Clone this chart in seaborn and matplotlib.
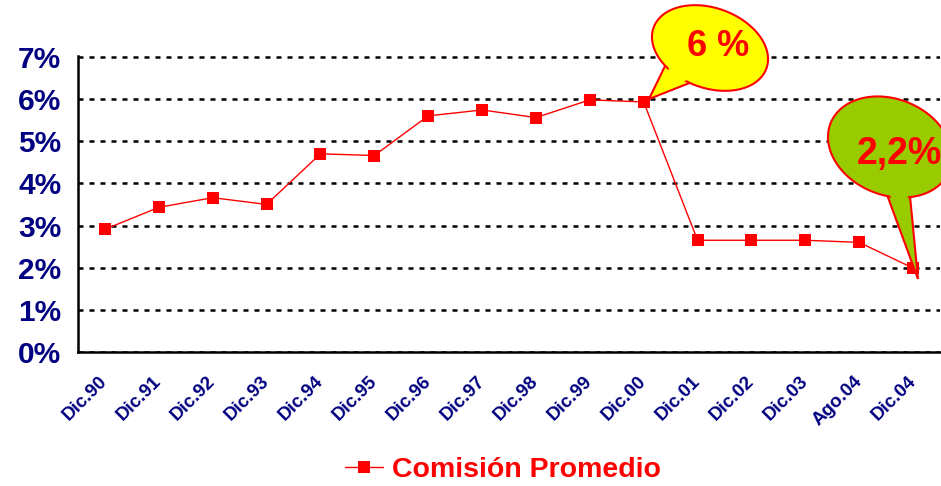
import numpy as np
import pandas as pd
import matplotlib
matplotlib.use("Agg")
import matplotlib.pyplot as plt
import seaborn as sns
from matplotlib.patches import Polygon
from matplotlib.transforms import IdentityTransform

# Datos
periodos = ["Dic.90", "Dic.91", "Dic.92", "Dic.93", "Dic.94", "Dic.95", "Dic.96", "Dic.97",
            "Dic.98", "Dic.99", "Dic.00", "Dic.01", "Dic.02", "Dic.03", "Ago.04", "Dic.04"]
comision = [0.0291, 0.0343, 0.0366, 0.0350, 0.0470, 0.0466, 0.0560, 0.0574,
            0.0556, 0.0598, 0.0593, 0.0265, 0.0265, 0.0265, 0.0260, 0.0199]
etiquetas_y = ["0%", "1%", "2%", "3%", "4%", "5%", "6%", "7%"]
serie = "Comisión Promedio"

sns.set_style("white")
plt.rcParams["font.family"] = ["Liberation Sans", "DejaVu Sans"]
plt.rcParams["font.weight"] = "bold"

W, H = 941, 486
azul = "#000080"
rojo = "#FF0000"

df = pd.DataFrame({"pos": np.arange(len(periodos)), "comision": comision})

fig = plt.figure(figsize=(W / 100, H / 100), dpi=100)
ax = fig.add_axes([78 / W, 1 - 352 / H, 862 / W, (352 - 56) / H])

sns.lineplot(data=df, x="pos", y="comision", color=rojo, linewidth=1.0,
             marker="s", markersize=8.5, markeredgewidth=0, label=serie, ax=ax)

ax.set_xlim(-0.5, len(periodos) - 0.5)
ax.set_ylim(0, 0.0702)
ax.set_xlabel("")
ax.set_ylabel("")

# eje y
ax.set_yticks(np.arange(0, 0.071, 0.01))
ax.set_yticklabels(etiquetas_y, fontsize=21.5, fontweight="bold", color=azul)
ax.tick_params(axis="y", length=0, pad=12)
ax.yaxis.grid(True, color="black", linestyle=(0, (2, 2.4)), linewidth=1.8)
ax.xaxis.grid(False)

# eje x: marcas largas en los limites, cortas en el centro
ax.set_xticks(np.arange(-0.5, len(periodos), 1.0))
ax.set_xticklabels([])
ax.set_xticks(np.arange(len(periodos)), minor=True)
ax.set_xticklabels(periodos, minor=True, rotation=45, ha="right", va="center",
                   rotation_mode="anchor", fontsize=13.5, fontweight="bold", color=azul)
ax.tick_params(axis="x", which="major", direction="out", length=5, width=1.6, color="black")
ax.tick_params(axis="x", which="minor", direction="in", length=3, width=1.6, color="black", pad=19)

for lado in ["top", "right"]:
    ax.spines[lado].set_visible(False)
for lado in ["left", "bottom"]:
    ax.spines[lado].set_color("black")
    ax.spines[lado].set_linewidth(1.8)

ax.legend_.remove()
h, l = ax.get_legend_handles_labels()
fig.legend(h, l, loc="center", bbox_to_anchor=(503 / W, 1 - 470 / H), frameon=False,
           prop={"size": 20.5, "weight": "bold"}, labelcolor=rojo, handlelength=1.35,
           handletextpad=0.3)


def px(x, y):
    return (x, H - y)


def globo(centro, a, b, ang, base1, base2, punta, color, texto, pos_texto, tam):
    t = np.linspace(0, 2 * np.pi, 200)
    th = np.deg2rad(ang)
    xs = centro[0] + a * np.cos(t) * np.cos(th) - b * np.sin(t) * np.sin(th)
    ys = centro[1] + a * np.cos(t) * np.sin(th) + b * np.sin(t) * np.cos(th)
    elipse = [px(x, y) for x, y in zip(xs, ys)]
    cola = [px(*base1), px(*punta), px(*base2)]
    tr = IdentityTransform()
    fig.patches.append(Polygon(cola, closed=True, facecolor=color, edgecolor=rojo,
                               linewidth=1.5, transform=tr, figure=fig, zorder=5))
    fig.patches.append(Polygon(elipse, closed=True, facecolor=color, edgecolor=rojo,
                               linewidth=1.5, transform=tr, figure=fig, zorder=6))
    # tapa la union entre cola y elipse
    mx = (base1[0] + base2[0]) / 2
    my = (base1[1] + base2[1]) / 2
    interior = [px(base1[0] + 0.15 * (centro[0] - base1[0]), base1[1] + 0.15 * (centro[1] - base1[1])),
                px(punta[0] + 0.25 * (mx - punta[0]), punta[1] + 0.25 * (my - punta[1])),
                px(base2[0] + 0.15 * (centro[0] - base2[0]), base2[1] + 0.15 * (centro[1] - base2[1]))]
    fig.patches.append(Polygon(interior, closed=True, facecolor=color, edgecolor="none",
                               transform=tr, figure=fig, zorder=7))
    fig.text(pos_texto[0] / W, 1 - pos_texto[1] / H, texto, color=rojo, fontsize=tam,
             fontweight="bold", ha="center", va="center", zorder=8)


globo((710, 48), 60, 40, 20, (666, 64), (692, 82), (649, 99), "#FFFF00", "6 %", (718, 46), 26)
globo((890, 147), 64, 48, 22, (886, 192), (910, 196), (918, 279), "#99CC00", "2,2%", (899, 154), 27)

fig.savefig("out.png", dpi=100)
